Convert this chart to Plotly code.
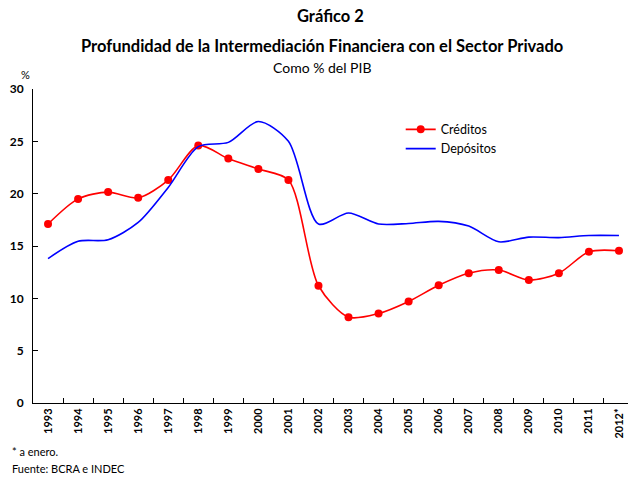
import plotly.graph_objects as go

years = ["1993", "1994", "1995", "1996", "1997", "1998", "1999", "2000", "2001", "2002",
         "2003", "2004", "2005", "2006", "2007", "2008", "2009", "2010", "2011", "2012*"]
creditos = [17.1, 19.5, 20.15, 19.6, 21.3, 24.6, 23.35, 22.35, 21.3, 11.2,
            8.2, 8.55, 9.7, 11.25, 12.4, 12.7, 11.75, 12.4, 14.45, 14.55]
depositos = [13.8, 15.45, 15.6, 17.25, 20.6, 24.5, 24.9, 26.9, 25.0, 17.1,
             18.15, 17.1, 17.15, 17.35, 16.9, 15.4, 15.85, 15.8, 16.0, 16.0]

FONT = "Lato"

fig = go.Figure()
fig.add_trace(go.Scatter(
    x=years, y=creditos, name="Créditos", mode="lines+markers",
    line=dict(color="#ff0000", width=1.6, shape="spline", smoothing=0.8),
    marker=dict(color="#ff0000", size=8),
))
fig.add_trace(go.Scatter(
    x=years, y=depositos, name="Depósitos", mode="lines",
    line=dict(color="#0000ff", width=1.6, shape="spline", smoothing=0.8),
))

fig.update_layout(
    width=629, height=477,
    margin=dict(l=33, r=1, t=89, b=74),
    paper_bgcolor="white", plot_bgcolor="white",
    font=dict(family=FONT, color="black", size=11),
    showlegend=True,
    legend=dict(x=0.618, y=0.918, xanchor="left", yanchor="top",
                bgcolor="rgba(0,0,0,0)", font=dict(size=12.5, family=FONT),
                itemwidth=30, tracegroupgap=0),
    xaxis=dict(
        type="category", range=[-0.5, 19.3],
        showline=True, linecolor="black", linewidth=1,
        ticks="inside", ticklen=5, tickcolor="black", tickson="boundaries",
        tickangle=-90, tickfont=dict(size=11, family=FONT, weight="bold"),
        showgrid=False, zeroline=False,
    ),
    yaxis=dict(
        range=[0, 30], dtick=5,
        showline=True, linecolor="black", linewidth=1,
        ticks="inside", ticklen=5, tickcolor="black",
        tickfont=dict(size=12, family=FONT, weight="bold"),
        ticklabelstandoff=6,
        showgrid=False, zeroline=False,
    ),
)

annots = [
    dict(text="<b>Gráfico 2</b>", x=0.5, y=1.233, size=16.5),
    dict(text="<b>Profundidad de la Intermediación Financiera con el Sector Privado</b>", x=0.485, y=1.138, size=16.5),
    dict(text="Como % del PIB", x=0.487, y=1.068, size=14),
]
for a in annots:
    fig.add_annotation(text=a["text"], x=a["x"], y=a["y"], xref="paper", yref="paper",
                       xanchor="center", yanchor="middle", showarrow=False,
                       font=dict(size=a["size"], family=FONT, color="black"))

fig.add_annotation(text="%", x=-0.013, y=1.045, xref="paper", yref="paper",
                   xanchor="center", yanchor="middle", showarrow=False,
                   font=dict(size=11, family=FONT))
fig.add_annotation(text="* a enero.", x=-0.039, y=-0.155, xref="paper", yref="paper",
                   xanchor="left", yanchor="middle", showarrow=False,
                   font=dict(size=11, family=FONT))
fig.add_annotation(text="Fuente: BCRA e INDEC", x=-0.039, y=-0.209, xref="paper", yref="paper",
                   xanchor="left", yanchor="middle", showarrow=False,
                   font=dict(size=11, family=FONT))

fig.write_html("out.html", config={"displayModeBar": False},
               post_script="document.body.style.margin='0px';")
